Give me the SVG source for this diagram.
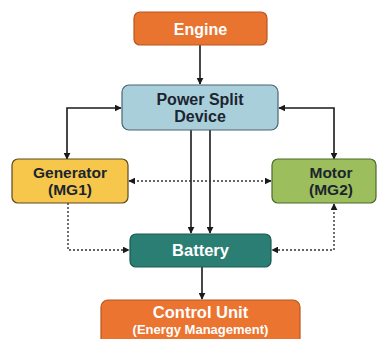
<svg xmlns="http://www.w3.org/2000/svg" width="379" height="339" viewBox="0 0 379 339">
<defs>
<marker id="ah" viewBox="0 0 10 10" refX="9" refY="5" markerWidth="7" markerHeight="7" orient="auto-start-reverse" markerUnits="userSpaceOnUse"><path d="M0,0 L10,5 L0,10 z" fill="#1a1a1a"/></marker>
<style>
.lbl{font-family:"Liberation Sans",Arial,sans-serif;font-weight:bold;text-anchor:middle}
.w{fill:#ffffff}
.d{fill:#1b2530}
.solid{stroke:#1a1a1a;stroke-width:1.6;fill:none}
.dot{stroke:#333;stroke-width:1.4;fill:none;stroke-dasharray:2 2}
</style>
</defs>
<rect width="379" height="339" fill="#ffffff"/>
<g id="connectors">
<line class="solid" x1="200" y1="45" x2="200" y2="84" marker-end="url(#ah)"/>
<polyline class="solid" points="67,159 67,108 121,108" marker-start="url(#ah)" marker-end="url(#ah)"/>
<polyline class="solid" points="334,159 334,108 279,108" marker-start="url(#ah)" marker-end="url(#ah)"/>
<line class="solid" x1="191" y1="130" x2="191" y2="233" marker-end="url(#ah)"/>
<line class="solid" x1="210" y1="130" x2="210" y2="233" marker-end="url(#ah)"/>
<line class="dot" x1="129" y1="181" x2="271" y2="181" marker-start="url(#ah)" marker-end="url(#ah)"/>
<polyline class="dot" points="68,203 68,250 129,250" marker-end="url(#ah)"/>
<polyline class="dot" points="334,204 334,250 272,250" marker-start="url(#ah)" marker-end="url(#ah)"/>
<line class="solid" x1="202" y1="267" x2="202" y2="299" marker-end="url(#ah)"/>
</g>
<g id="engine">
<rect x="134" y="12" width="133" height="33" rx="6" fill="#E8742F" stroke="#B8561E" stroke-width="1.2"/>
<text class="lbl w" x="200.5" y="35" font-size="16">Engine</text>
</g>
<g id="psd">
<rect x="122" y="85" width="156" height="45" rx="7" fill="#A9CFDB" stroke="#4A6572" stroke-width="1.2"/>
<text class="lbl d" x="200" y="105" font-size="16">Power Split</text>
<text class="lbl d" x="200" y="122" font-size="16">Device</text>
</g>
<g id="generator">
<rect x="12" y="159" width="116" height="44" rx="6" fill="#F6C74A" stroke="#5A4A22" stroke-width="1.2"/>
<text class="lbl d" x="70" y="178" font-size="15.5">Generator</text>
<text class="lbl d" x="70" y="195" font-size="15.5">(MG1)</text>
</g>
<g id="motor">
<rect x="272" y="159" width="104" height="44" rx="6" fill="#9CBE5C" stroke="#4C6A2E" stroke-width="1.2"/>
<text class="lbl d" x="331" y="178" font-size="15.5">Motor</text>
<text class="lbl d" x="331" y="195" font-size="15.5">(MG2)</text>
</g>
<g id="battery">
<rect x="130" y="234" width="141" height="33" rx="6" fill="#2A7E74" stroke="#1C5A52" stroke-width="1.2"/>
<text class="lbl w" x="200.5" y="256" font-size="16.5">Battery</text>
</g>
<g id="control">
<rect x="101" y="300" width="199" height="45" rx="7" fill="#EB7431" stroke="#B8561E" stroke-width="1.2"/>
<text class="lbl w" x="200.5" y="318" font-size="16.5">Control Unit</text>
<text class="lbl w" x="200.5" y="333.5" font-size="13">(Energy Management)</text>
</g>
</svg>
